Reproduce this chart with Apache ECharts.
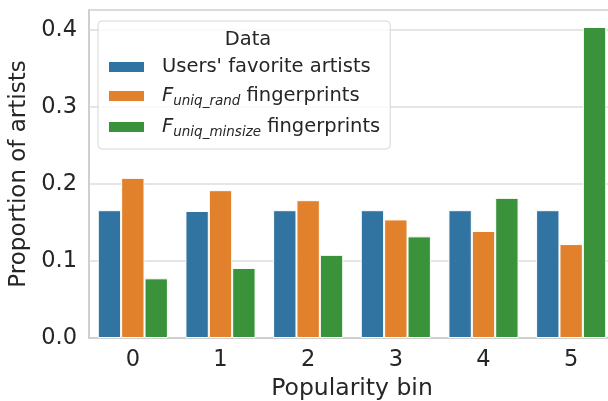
<!DOCTYPE html>
<html><head><meta charset="utf-8">
<script src="https://cdn.jsdelivr.net/npm/echarts@6/dist/echarts.min.js"></script>
<style>html,body{margin:0;padding:0;background:#fff}#c{width:608px;height:401px}</style>
</head><body><div id="c"></div>
<script>
const categories = ['0','1','2','3','4','5'];
const usersFav = [0.166, 0.165, 0.166, 0.166, 0.166, 0.166];
const uniqRand = [0.208, 0.192, 0.179, 0.154, 0.139, 0.122];
const uniqMinsize = [0.0775, 0.091, 0.108, 0.132, 0.182, 0.404];
const seriesNames = ["Users' favorite artists", "F_uniq_rand fingerprints", "F_uniq_minsize fingerprints"];
const colors = ['#3274a1', '#e1812c', '#3a923a'];
const FONT = 'DejaVu Sans';
const chart = echarts.init(document.getElementById('c'), null, {renderer:'canvas'});
function mk(name, data, color){
  return {name, type:'bar', data, barGap:'0%', barCategoryGap:'20%',
    itemStyle:{color, borderColor:'#ffffff', borderWidth:1}};
}
chart.setOption({
  animation:false,
  textStyle:{fontFamily:FONT},
  grid:{left:89, top:10, width:526, height:328, show:true, borderColor:'#cccccc', borderWidth:1.5,
    containLabel:false, outerBoundsMode:'none'},
  title:{text:'Data', left:243, top:25, textAlign:'center', textStyle:{fontFamily:FONT, fontSize:19.5, fontWeight:'normal', color:'#262626'}},
  legend:{orient:'vertical', left:98, top:21, padding:[36,10,10,9], itemGap:7,
    itemWidth:37, itemHeight:12, backgroundColor:'rgba(255,255,255,0.8)', borderColor:'#d6d6d6', borderWidth:1, borderRadius:4,
    icon:'rect',
    data: seriesNames,
    formatter: function(n){
      if(n===seriesNames[1]) return '{f|F}{s|uniq_rand}{t| fingerprints}';
      if(n===seriesNames[2]) return '{f|F}{s|uniq_minsize}{t| fingerprints}';
      return '{t|'+n+'}';
    },
    textStyle:{fontFamily:FONT, fontSize:19.5, color:'#262626', padding:[0,0,0,12],
      rich:{
        t:{fontFamily:FONT, fontSize:19.5, color:'#262626', lineHeight:23},
        f:{fontFamily:FONT, fontSize:19.5, fontStyle:'italic', color:'#262626', lineHeight:23},
        s:{fontFamily:FONT, fontSize:13.5, fontStyle:'italic', color:'#262626', lineHeight:23, padding:[10,0,0,0]}
      }}
  },
  xAxis:{type:'category', data:categories, name:'Popularity bin', nameLocation:'middle', nameGap:39,
    nameTextStyle:{fontFamily:FONT, fontSize:23.5, color:'#262626'},
    axisLine:{lineStyle:{color:'#cccccc', width:1.5}}, axisTick:{show:false},
    axisLabel:{fontFamily:FONT, fontSize:22.5, color:'#262626', margin:11}},
  yAxis:{type:'value', min:0, max:0.426, interval:0.1, name:'Proportion of artists', nameLocation:'middle', nameGap:51,
    nameTextStyle:{fontFamily:FONT, fontSize:23, color:'#262626'},
    axisLine:{show:true, lineStyle:{color:'#cccccc', width:1.5}}, axisTick:{show:false},
    axisLabel:{fontFamily:FONT, fontSize:22.5, color:'#262626', margin:12, showMaxLabel:false, formatter:v=>v.toFixed(1)},
    splitLine:{lineStyle:{color:'#dddddd', width:1.5}}},
  series:[mk(seriesNames[0], usersFav, colors[0]), mk(seriesNames[1], uniqRand, colors[1]), mk(seriesNames[2], uniqMinsize, colors[2])]
});
</script></body></html>
